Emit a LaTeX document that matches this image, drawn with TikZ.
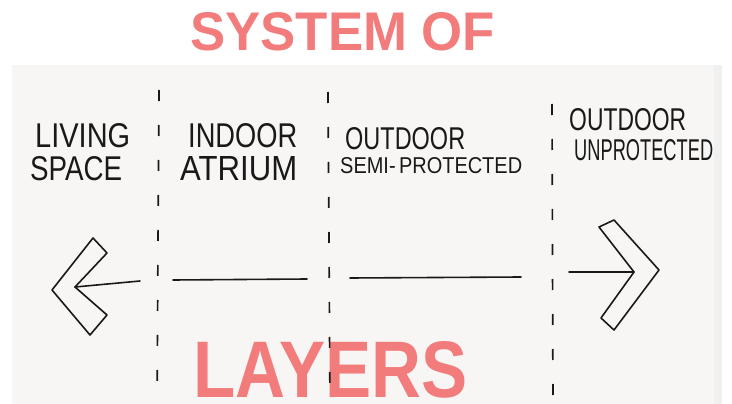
\documentclass[tikz,border=0pt]{standalone}
\usepackage{fontspec}
\usepackage{graphicx}
\newfontfamily\titlefont{Liberation Sans}
\newfontfamily\handfont{Liberation Sans}
\definecolor{salmon}{RGB}{242,124,124}
\definecolor{paper}{RGB}{247,246,244}
\definecolor{ink}{RGB}{25,25,25}
% handwritten label, boxed to width w and cap height h
\newcommand{\hw}[3]{\resizebox{#1pt}{#2pt}{\handfont #3}}
\newcommand{\bigt}[3]{\resizebox{#1pt}{#2pt}{\titlefont\bfseries #3}}

\begin{document}
\begin{tikzpicture}[x=1pt, y=-1pt,
  every node/.style={inner sep=0pt, anchor=north west},
  divider/.style={ink, line width=1.7pt, dash pattern=on 11pt off 24pt},
  pen/.style={ink, line width=1.6pt, line cap=round, line join=round}]
  \useasboundingbox (0,0) rectangle (732,404);
  \fill[paper] (12,65) rectangle (722,404);
  \fill[black!6] (714,65) rectangle (722,404);

  \node[text=salmon] (sys) at (190,12) {\bigt{305}{38}{SYSTEM OF}};
  \node[text=salmon] (lay) at (193,341) {\bigt{274}{56}{LAYERS}};

  \node[text=ink] (living) at (35,123) {\hw{95}{24}{LIVING}};
  \node[text=ink] (space) at (30,156) {\hw{92}{24}{SPACE}};
  \node[text=ink] (indoor) at (188,123) {\hw{109}{24}{INDOOR}};
  \node[text=ink] (atrium) at (180,156) {\hw{117}{24}{ATRIUM}};
  \node[text=ink] (out1) at (345,127) {\hw{120}{22}{OUTDOOR}};
  \node[text=ink] (semi) at (340,157) {\hw{182}{16}{SEMI-\,PROTECTED}};
  \node[text=ink] (out2) at (569,108) {\hw{117}{22}{OUTDOOR}};
  \node[text=ink] (unprot) at (574,139) {\hw{139}{21}{UNPROTECTED}};

  % layer borders
  \draw[divider] (159,90) -- (157,404);
  \draw[divider] (328,92) -- (330,404);
  \draw[divider] (552,104) -- (553,404);

  % arrow ends
  \coordinate (lin) at (75,287);
  \coordinate (rin) at (634,272);
  \draw[pen] (52,290) -- (93,238) -- (107,253) -- (lin) -- (107,315) -- (90,335) -- cycle;
  \draw[pen] (659,270) -- (614,220) -- (599,227) -- (rin) -- (601,318) -- (614,330) -- cycle;

  \coordinate (a1) at (140,281);
  \coordinate (b0) at (173,280);
  \coordinate (b1) at (307,279);
  \coordinate (c0) at (350,278);
  \coordinate (c1) at (521,277);
  \coordinate (d0) at (569,272);
  \draw[pen] (lin) -- (a1);
  \draw[pen] (b0) -- (b1);
  \draw[pen] (c0) -- (c1);
  \draw[pen] (d0) -- (rin);
\end{tikzpicture}
\end{document}
